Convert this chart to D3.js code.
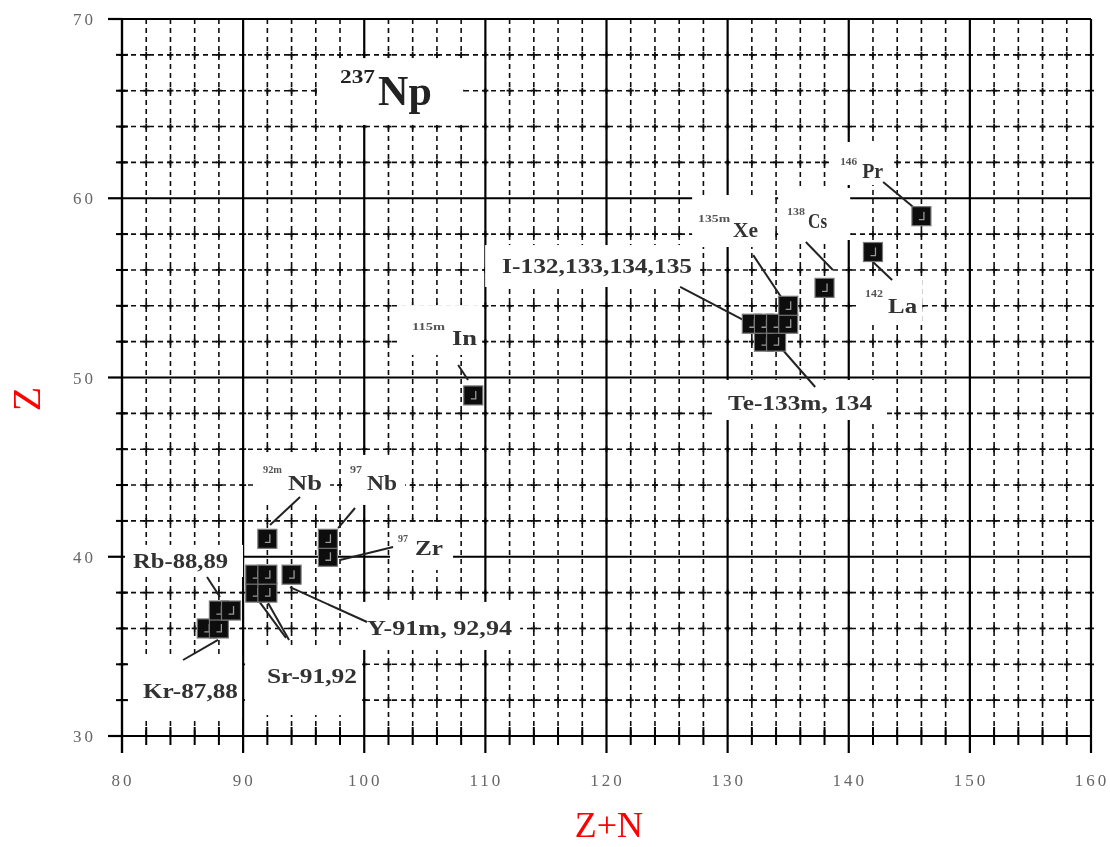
<!DOCTYPE html>
<html>
<head>
<meta charset="utf-8">
<script src="https://cdn.jsdelivr.net/npm/d3@7"></script>
<style>
  body { margin: 0; background: #fff; }
  svg { display: block; }
</style>
</head>
<body>
<svg id="chart"></svg>
<script>
// fission products of 237Np : mass number (Z+N) vs proton number (Z)
const nuclides = ["Kr-87","Kr-88","Rb-88","Rb-89","Sr-91","Sr-92","Y-91m","Y-92","Y-94",
                  "Nb-92m","Zr-97","Nb-97","In-115m","Te-133m","Te-134",
                  "I-132","I-133","I-134","I-135","Xe-135m","Cs-138","La-142","Pr-146"];
const massNumbers   = [87,88,88,89,91,92,91,92,94,92,97,97,109,133,134,132,133,134,135,135,138,142,146];
const protonNumbers = [36,36,37,37,38,38,39,39,39,41,40,41,49,52,52,53,53,53,53,54,55,57,59];

const xTicks = [80,90,100,110,120,130,140,150,160];
const yTicks = [30,40,50,60,70];
const xMinor = d3.range(82,160,2).filter(v => v % 10 !== 0);
const yMinor = d3.range(32,70,2).filter(v => v % 10 !== 0);

// annotation layout (data units): sup = superscript, txt = main text
const notes = [
  {sup:"237", txt:"Np", sx:98.0, sy:66.43, tx:101.14, ty:65.2, box:[96.1,67.82,108.16,64.09], big:true},
  {sup:"146", txt:"Pr", sx:139.29, sy:61.85, tx:141.11, ty:61.13, box:[138.63,63.14,143.67,60.74], lead:[142.84,60.91,145.32,59.51], sw:17, tw:21},
  {sup:"135m", txt:"Xe", sx:127.56, sy:58.67, tx:130.45, ty:57.84, box:[127.07,60.18,133.92,57.28], lead:[132.11,56.83,134.58,54.32], sw:32, tw:25},
  {sup:"138", txt:"Cs", sx:134.91, sy:59.07, tx:136.64, ty:58.34, box:[134.17,60.57,140.12,57.67], lead:[136.46,57.56,138.69,56.0], sw:18, tw:19},
  {sup:"142", txt:"La", sx:141.35, sy:54.49, tx:143.25, ty:53.6, box:[140.78,55.44,146.06,52.93], lead:[142.01,56.44,143.58,55.44], sw:18, tw:29},
  {txt:"I-132,133,134,135", tx:111.38, ty:55.83, box:[109.98,57.39,127.73,55.05], lead:[126.08,55.05,131.28,53.21], tw:190},
  {txt:"Te-133m, 134", tx:130.04, ty:48.19, box:[128.97,49.86,143.01,47.63], lead:[134.34,51.7,137.23,49.47], tw:144},
  {sup:"115m", txt:"In", sx:103.95, sy:52.65, tx:107.25, ty:51.81, box:[102.96,54.04,109.73,51.26], lead:[107.75,50.7,108.57,49.86], sw:33, tw:25},
  {sup:"92m", txt:"Nb", sx:91.64, sy:44.67, tx:93.71, ty:43.72, box:[91.15,45.84,97.18,42.89], lead:[94.7,43.33,92.22,41.77], sw:19, tw:34},
  {sup:"97", txt:"Nb", sx:98.83, sy:44.67, tx:100.23, ty:43.72, box:[98.17,45.68,103.37,42.89], lead:[99.24,42.72,97.84,41.6], sw:12, tw:30},
  {sup:"97", txt:"Zr", sx:102.79, sy:40.82, tx:104.19, ty:40.1, box:[102.13,41.94,107.33,39.26], lead:[102.38,40.54,98.0,39.82], sw:10, tw:28},
  {txt:"Rb-88,89", tx:80.91, ty:39.37, box:[80.25,40.66,89.99,38.87], lead:[87.02,38.87,88.09,37.75], tw:95},
  {txt:"Kr-87,88", tx:81.73, ty:32.12, box:[80.5,34.52,89.91,31.0], lead:[85.04,34.24,87.93,35.36], tw:95},
  {txt:"Sr-91,92", tx:91.97, ty:32.96, box:[90.16,34.91,99.82,31.17], lead:[92.06,37.42,93.79,35.36], lead2:[91.23,37.59,93.54,35.47], tw:90},
  {txt:"Y-91m, 92,94", tx:100.23, ty:35.63, box:[99.49,37.48,112.87,34.8], lead:[100.23,36.36,93.87,38.31], tw:145}
];

const W = 1110, H = 847;
const margin = {top:19, right:19, bottom:111, left:122};

const svg = d3.select("#chart").attr("width", W).attr("height", H);

const defs = svg.append("defs");
defs.append("filter").attr("id","soft")
  .append("feGaussianBlur").attr("stdDeviation", 0.45);

const g = svg.append("g").attr("filter","url(#soft)");

const x = d3.scaleLinear().domain([80,160]).range([margin.left, W - margin.right]);
const y = d3.scaleLinear().domain([30,70]).range([H - margin.bottom, margin.top]);

// minor grid (dashed)
const grid = g.append("g");
grid.selectAll(".vmin").data(xMinor).enter().append("line")
  .attr("x1", d => x(d)).attr("x2", d => x(d))
  .attr("y1", y(70)).attr("y2", y(30))
  .attr("stroke", "#111").attr("stroke-width", 1.6)
  .attr("stroke-dasharray", "5,4");
grid.selectAll(".hmin").data(yMinor).enter().append("line")
  .attr("y1", d => y(d)).attr("y2", d => y(d))
  .attr("x1", x(80)).attr("x2", x(160))
  .attr("stroke", "#111").attr("stroke-width", 1.6)
  .attr("stroke-dasharray", "5,4");

// little crosses where the dashed rows meet the columns
const crossPts = [];
yMinor.forEach(yy => xMinor.concat(xTicks).forEach(xx => crossPts.push([xx, yy])));
grid.selectAll(".cross").data(crossPts).enter().append("path")
  .attr("d", d => `M${x(d[0])-3},${y(d[1])}h6M${x(d[0])},${y(d[1])-3}v6`)
  .attr("stroke", "#111").attr("stroke-width", 1.8);

// major grid (solid)
grid.selectAll(".vmaj").data(xTicks).enter().append("line")
  .attr("x1", d => x(d)).attr("x2", d => x(d))
  .attr("y1", y(70)).attr("y2", y(30))
  .attr("stroke", "#000").attr("stroke-width", 2.2);
grid.selectAll(".hmaj").data(yTicks).enter().append("line")
  .attr("y1", d => y(d)).attr("y2", d => y(d))
  .attr("x1", x(80)).attr("x2", x(160))
  .attr("stroke", "#000").attr("stroke-width", 2.2);

// axes with outward ticks
const axY = g.append("g");
axY.append("line").attr("x1", x(80)).attr("x2", x(80))
  .attr("y1", y(70)).attr("y2", y(30) + 17)
  .attr("stroke", "#000").attr("stroke-width", 2.2);
axY.selectAll(".tmaj").data(yTicks).enter().append("line")
  .attr("x1", x(80) - 14).attr("x2", x(80))
  .attr("y1", d => y(d)).attr("y2", d => y(d))
  .attr("stroke", "#000").attr("stroke-width", 2.2);
axY.selectAll(".tmin").data(yMinor).enter().append("line")
  .attr("x1", x(80) - 6).attr("x2", x(80) + 6)
  .attr("y1", d => y(d)).attr("y2", d => y(d))
  .attr("stroke", "#000").attr("stroke-width", 2);
axY.selectAll(".lab").data(yTicks).enter().append("text")
  .attr("x", x(80) - 26).attr("y", d => y(d) + 6)
  .attr("text-anchor", "end")
  .attr("font-family", "Liberation Serif").attr("font-size", 17)
  .attr("letter-spacing", 3).attr("fill", "#666")
  .text(d => d);

const axX = g.append("g");
axX.append("line").attr("x1", x(80) - 12).attr("x2", x(160))
  .attr("y1", y(30)).attr("y2", y(30))
  .attr("stroke", "#000").attr("stroke-width", 2.2);
axX.selectAll(".tmaj").data(xTicks).enter().append("line")
  .attr("x1", d => x(d)).attr("x2", d => x(d))
  .attr("y1", y(30)).attr("y2", y(30) + 17)
  .attr("stroke", "#000").attr("stroke-width", 2.2);
axX.selectAll(".tmin").data(xMinor).enter().append("line")
  .attr("x1", d => x(d)).attr("x2", d => x(d))
  .attr("y1", y(30) - 9).attr("y2", y(30) + 9)
  .attr("stroke", "#000").attr("stroke-width", 2);
axX.selectAll(".lab").data(xTicks).enter().append("text")
  .attr("x", d => x(d) + 1).attr("y", y(30) + 50)
  .attr("text-anchor", "middle")
  .attr("font-family", "Liberation Serif").attr("font-size", 17)
  .attr("letter-spacing", 3).attr("fill", "#666")
  .text(d => d);

// axis titles
g.append("text")
  .attr("transform", `translate(40,${y(48.8)}) rotate(-90)`)
  .attr("text-anchor", "middle")
  .attr("font-family", "Liberation Serif").attr("font-size", 40)
  .attr("fill", "#f00")
  .text("Z");
g.append("text")
  .attr("x", x(120.2)).attr("y", H - 10)
  .attr("text-anchor", "middle")
  .attr("font-family", "Liberation Serif").attr("font-size", 36)
  .attr("fill", "#f00")
  .text("Z+N");

// white label boxes (hide the grid behind the labels)
const ann = g.append("g");
ann.selectAll(".box").data(notes).enter().append("rect")
  .attr("x", d => x(d.box[0])).attr("y", d => y(d.box[1]))
  .attr("width", d => x(d.box[2]) - x(d.box[0]))
  .attr("height", d => y(d.box[3]) - y(d.box[1]))
  .attr("fill", "#fff");

// leader lines
const leads = [];
notes.forEach(d => { if (d.lead) leads.push(d.lead); if (d.lead2) leads.push(d.lead2); });
ann.selectAll(".lead").data(leads).enter().append("line")
  .attr("x1", d => x(d[0])).attr("y1", d => y(d[1]))
  .attr("x2", d => x(d[2])).attr("y2", d => y(d[3]))
  .attr("stroke", "#222").attr("stroke-width", 2);

// data squares
const pts = nuclides.map((n, i) => ({name:n, a:massNumbers[i], z:protonNumbers[i]}));
const s = 19;
const marks = g.append("g").selectAll("g").data(pts).enter().append("g")
  .attr("transform", d => `translate(${x(d.a) - s/2},${y(d.z) - s/2})`);
marks.append("rect")
  .attr("width", s).attr("height", s)
  .attr("fill", "#0a0a0a").attr("stroke", "#777").attr("stroke-width", 1.2);
marks.append("path")
  .attr("d", "M12,5V13H7")
  .attr("fill", "none").attr("stroke", "#9a9a9a").attr("stroke-width", 1.3);

// label texts
const txt = g.append("g");
notes.forEach(d => {
  if (d.big) {
    txt.append("text").attr("x", x(d.sx)).attr("y", y(d.sy))
      .attr("font-family", "Liberation Serif").attr("font-weight", "bold")
      .attr("font-size", 18).attr("fill", "#222")
      .attr("textLength", 35).attr("lengthAdjust", "spacingAndGlyphs")
      .text(d.sup);
    txt.append("text").attr("x", x(d.tx)).attr("y", y(d.ty))
      .attr("font-family", "Liberation Serif").attr("font-weight", "bold")
      .attr("font-size", 42).attr("fill", "#222")
      .text(d.txt);
    return;
  }
  if (d.sup) {
    txt.append("text").attr("x", x(d.sx)).attr("y", y(d.sy))
      .attr("font-family", "Liberation Serif").attr("font-weight", "bold")
      .attr("font-size", 11).attr("fill", "#555")
      .attr("textLength", d.sw).attr("lengthAdjust", "spacingAndGlyphs")
      .text(d.sup);
  }
  txt.append("text").attr("x", x(d.tx)).attr("y", y(d.ty))
    .attr("font-family", "Liberation Serif").attr("font-weight", "bold")
    .attr("font-size", 20).attr("fill", "#333")
    .attr("textLength", d.tw).attr("lengthAdjust", "spacingAndGlyphs")
    .text(d.txt);
});
</script>
</body>
</html>
